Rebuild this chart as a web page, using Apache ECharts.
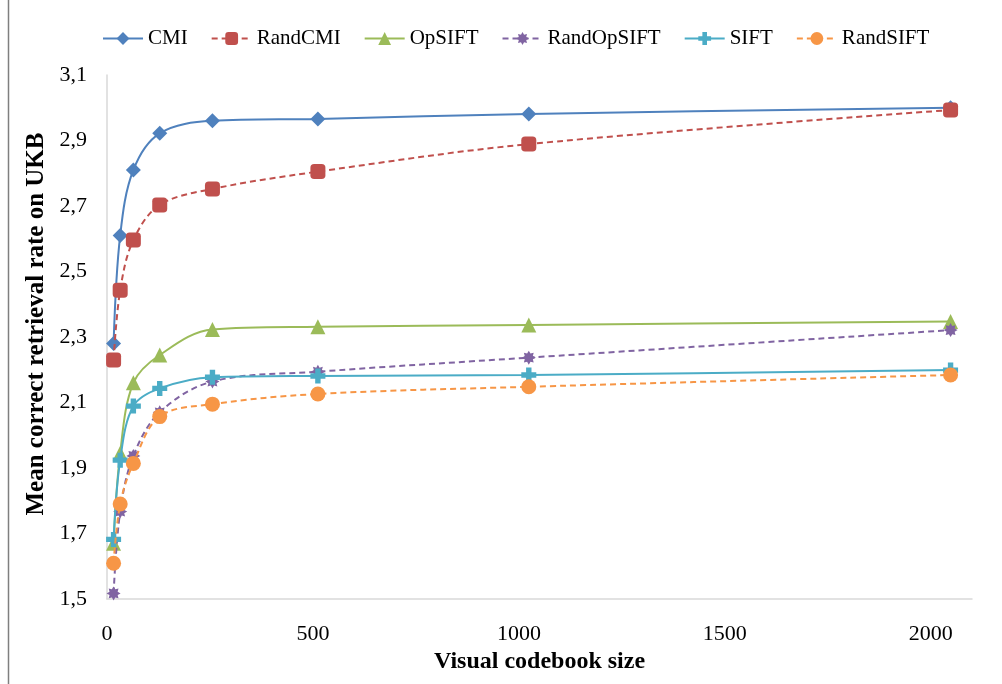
<!DOCTYPE html>
<html>
<head>
<meta charset="utf-8">
<script src="https://cdn.jsdelivr.net/npm/echarts@6/dist/echarts.min.js"></script>
<style>
  html, body { margin: 0; padding: 0; background: #fff; }
  #chart { width: 1002px; height: 684px; }
</style>
</head>
<body>
<div id="chart"></div>
<script>
// Visual codebook sizes (x) and mean correct retrieval rate on UKB (y)
const codebookSizes = [16, 32, 64, 128, 256, 512, 1024, 2048];
const seriesNames = ['CMI', 'RandCMI', 'OpSIFT', 'RandOpSIFT', 'SIFT', 'RandSIFT'];
const cmi        = [2.28, 2.61, 2.81, 2.922, 2.96, 2.966, 2.981, 3.0];
const randCmi    = [2.23, 2.443, 2.596, 2.703, 2.752, 2.805, 2.889, 2.993];
const opSift     = [1.67, 1.945, 2.16, 2.245, 2.323, 2.331, 2.337, 2.347];
const randOpSift = [1.517, 1.767, 1.937, 2.07, 2.164, 2.194, 2.237, 2.321];
const sift       = [1.682, 1.924, 2.089, 2.143, 2.177, 2.181, 2.184, 2.199];
const randSift   = [1.609, 1.79, 1.914, 2.057, 2.095, 2.126, 2.148, 2.184];
const xTickLabels = ['0', '500', '1000', '1500', '2000'];
const yTickLabels = ['1,5', '1,7', '1,9', '2,1', '2,3', '2,5', '2,7', '2,9', '3,1'];

const seriesValues = [cmi, randCmi, opSift, randOpSift, sift, randSift];
const colors = ['#4F81BD', '#C0504D', '#9BBB59', '#8064A2', '#4BACC6', '#F79646'];
const dashed = [false, true, false, true, false, true];
const plusPath = 'path://M3.2,0H6.8V3.2H10V6.8H6.8V10H3.2V6.8H0V3.2H3.2Z';
const starPath = 'path://M5,0L6.2,2.1L8.5,1.5L7.9,3.8L10,5L7.9,6.2L8.5,8.5L6.2,7.9L5,10L3.8,7.9L1.5,8.5L2.1,6.2L0,5L2.1,3.8L1.5,1.5L3.8,2.1Z';
const symbols = ['diamond', 'roundRect', 'triangle', starPath, plusPath, 'circle'];
const symbolSizes = [15, 15, 15, 14, 15, 15];

const chart = echarts.init(document.getElementById('chart'), null, { renderer: 'canvas' });

const series = seriesNames.map((name, i) => ({
  name: name,
  type: 'line',
  data: codebookSizes.map((x, k) => [x, seriesValues[i][k]]),
  smooth: 0.35,
  symbol: symbols[i],
  symbolSize: symbolSizes[i],
  showAllSymbol: true,
  itemStyle: { color: colors[i] },
  lineStyle: { color: colors[i], width: 2, type: dashed[i] ? [6, 4] : 'solid' },
  z: 2 + i
}));

chart.setOption({
  animation: false,
  backgroundColor: '#ffffff',
  color: colors,
  legend: {
    top: 23,
    left: 97,
    itemWidth: 40,
    itemHeight: 16,
    itemGap: 23,
    textStyle: { fontFamily: 'Liberation Serif', fontSize: 21, color: '#000' },
    data: seriesNames
  },
  grid: { left: 107, right: 30, top: 75, bottom: 85 },
  xAxis: {
    type: 'value',
    min: 0,
    max: 2100,
    interval: 500,
    name: 'Visual codebook size',
    nameLocation: 'middle',
    nameGap: 50,
    nameTextStyle: { fontFamily: 'Liberation Serif', fontWeight: 'bold', fontSize: 24, color: '#000' },
    axisLine: { show: true, lineStyle: { color: '#d9d9d9', width: 1.5 } },
    axisTick: { show: false },
    splitLine: { show: false },
    axisLabel: {
      showMaxLabel: false,
      margin: 24,
      fontFamily: 'Liberation Serif',
      fontSize: 22,
      color: '#000',
      formatter: v => {
        const idx = Math.round(v / 500);
        return (v % 500 === 0 && xTickLabels[idx] !== undefined) ? xTickLabels[idx] : '';
      }
    }
  },
  yAxis: {
    type: 'value',
    min: 1.5,
    max: 3.1,
    interval: 0.1,
    name: 'Mean correct retrieval rate on UKB',
    nameLocation: 'middle',
    nameGap: 48,
    nameTextStyle: {
      fontFamily: 'Liberation Serif', fontWeight: 'bold', fontSize: 25, color: '#000',
      padding: [0, 0, 0, 26]
    },
    axisLine: { show: true, lineStyle: { color: '#d9d9d9', width: 1.5 } },
    axisTick: { show: false },
    splitLine: { show: false },
    axisLabel: {
      margin: 20,
      fontFamily: 'Liberation Serif',
      fontSize: 22,
      color: '#000',
      formatter: v => {
        const k = Math.round(v * 10) - 15;
        return (k % 2 === 0) ? yTickLabels[k / 2] : '';
      }
    }
  },
  graphic: [{
    type: 'line',
    shape: { x1: 8.5, y1: 0, x2: 8.5, y2: 684 },
    style: { stroke: '#7f7f7f', lineWidth: 1.5 }
  }],
  series: series
});
</script>
</body>
</html>
